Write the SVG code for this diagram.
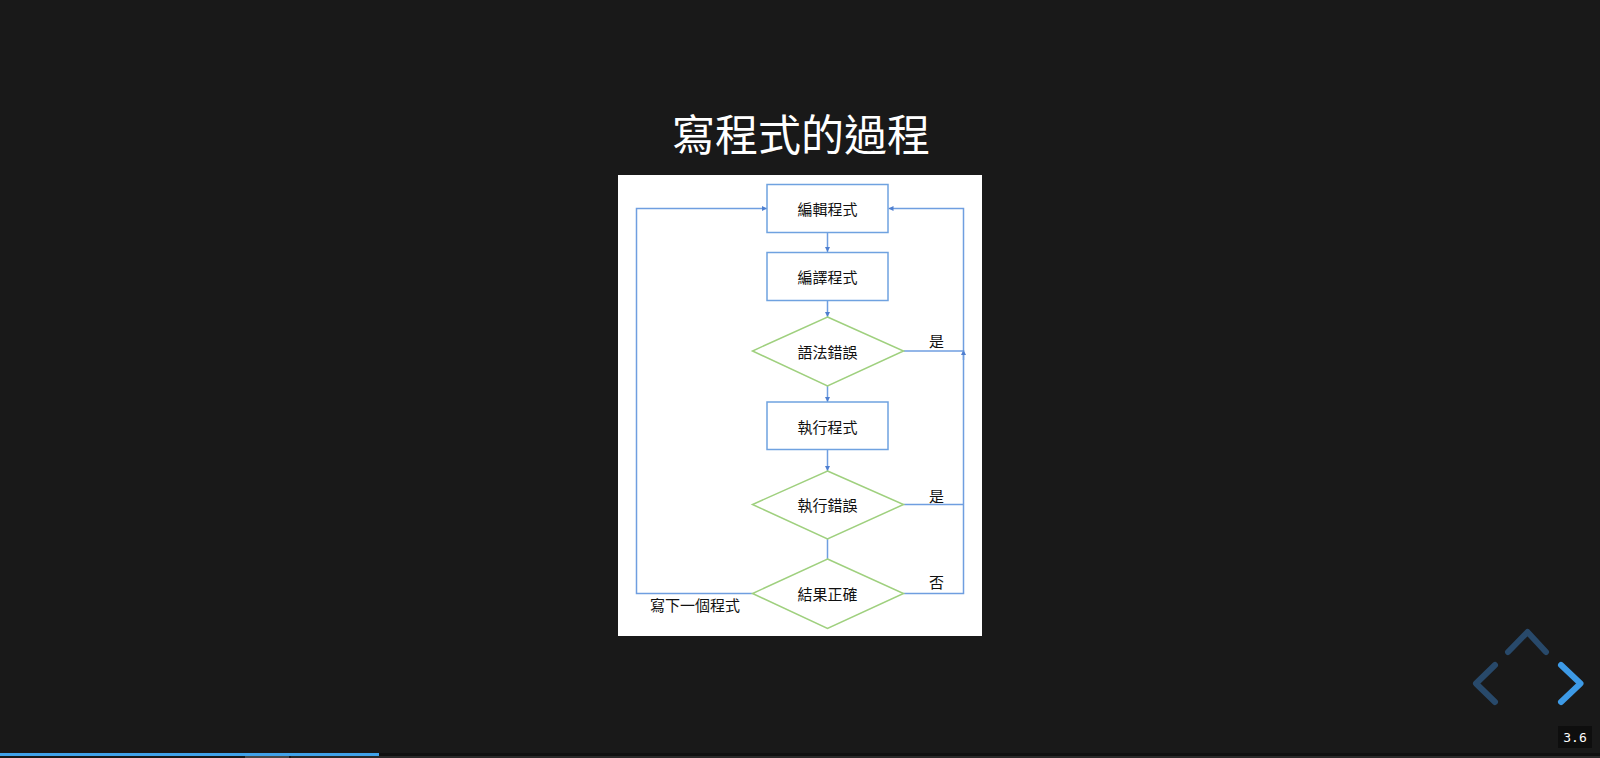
<svg xmlns="http://www.w3.org/2000/svg" width="1600" height="758" viewBox="0 0 1600 758">
<style>
.bg{fill:#191919}
.title{font-family:"Noto Sans CJK TC","Noto Sans CJK SC",sans-serif;font-size:43px;fill:#ffffff;text-anchor:middle}
.box{fill:#ffffff;stroke:#6fa2e0;stroke-width:1.5}
.dia{fill:#ffffff;stroke:#9fd07e;stroke-width:1.5}
.t{font-family:"Noto Sans CJK TC","Noto Sans CJK SC",sans-serif;font-size:15px;fill:#111111;text-anchor:middle;dominant-baseline:central}
.lbl{font-family:"Noto Sans CJK TC","Noto Sans CJK SC",sans-serif;font-size:15px;fill:#111111;dominant-baseline:central}
.ln{fill:none;stroke:#6f9ee0;stroke-width:1.5}
.nav{fill:none;stroke-width:6;stroke-linecap:round;stroke-linejoin:round}
</style>
<defs>
<marker id="ah" viewBox="0 0 10 10" refX="10" refY="5" markerWidth="5" markerHeight="5" orient="auto" markerUnits="userSpaceOnUse">
<path d="M0,0 L10,5 L0,10 z" fill="#4f7fd0"/>
</marker>
</defs>
<rect class="bg" x="0" y="0" width="1600" height="758"/>
<text class="title" x="801" y="151">寫程式的過程</text>
<rect x="618" y="175" width="364" height="461" fill="#ffffff"/>
<g id="connectors">
<line class="ln" x1="827.5" y1="232" x2="827.5" y2="252" marker-end="url(#ah)"/>
<line class="ln" x1="827.5" y1="300.5" x2="827.5" y2="317" marker-end="url(#ah)"/>
<line class="ln" x1="827.5" y1="386" x2="827.5" y2="402" marker-end="url(#ah)"/>
<line class="ln" x1="827.5" y1="449.5" x2="827.5" y2="471" marker-end="url(#ah)"/>
<line class="ln" x1="827.5" y1="539" x2="827.5" y2="559"/>
<polyline class="ln" points="752.5,593.5 636.5,593.5 636.5,208.5 767,208.5" marker-end="url(#ah)"/>
<polyline class="ln" points="903.5,593.5 963.5,593.5 963.5,208.5 888.5,208.5" marker-end="url(#ah)"/>
<line class="ln" x1="963.5" y1="360" x2="963.5" y2="350" marker-end="url(#ah)"/>
<line class="ln" x1="903.5" y1="351" x2="963.5" y2="351"/>
<line class="ln" x1="903.5" y1="504.5" x2="963.5" y2="504.5"/>
<text class="lbl" x="929" y="340">是</text>
<text class="lbl" x="929" y="495">是</text>
<text class="lbl" x="929" y="581">否</text>
<text class="lbl" x="650" y="604">寫下一個程式</text>
</g>
<g id="edit">
<rect class="box" x="767" y="184.5" width="121" height="48"/>
<text class="t" x="827.5" y="208.5">編輯程式</text>
</g>
<g id="compile">
<rect class="box" x="767" y="252.5" width="121" height="48"/>
<text class="t" x="827.5" y="276.5">編譯程式</text>
</g>
<g id="syntax">
<polygon class="dia" points="827.5,317 903.5,351 827.5,386 752.5,351"/>
<text class="t" x="827.5" y="351">語法錯誤</text>
</g>
<g id="run">
<rect class="box" x="767" y="402" width="121" height="47.5"/>
<text class="t" x="827.5" y="426">執行程式</text>
</g>
<g id="runtime">
<polygon class="dia" points="827.5,471 903.5,504.5 827.5,539 752.5,504.5"/>
<text class="t" x="827.5" y="504.5">執行錯誤</text>
</g>
<g id="result">
<polygon class="dia" points="827.5,559 903.5,593.5 827.5,628.5 752.5,593.5"/>
<text class="t" x="827.5" y="593.5">結果正確</text>
</g>
<g id="navigation">
<polyline class="nav" stroke="#28496a" points="1508,652 1527.5,632 1546,652"/>
<polyline class="nav" stroke="#28496a" points="1495,665 1476,683.5 1495,702"/>
<polyline class="nav" stroke="#3d9ae6" points="1561,665 1580.5,683.5 1561,702"/>
<rect x="1558" y="726" width="34" height="22" fill="#0e0e0e"/>
<text x="1575" y="742" font-family="DejaVu Sans Mono,monospace" font-size="13" fill="#ffffff" text-anchor="middle">3.6</text>
<rect x="0" y="753" width="1600" height="3" fill="#101010"/>
<rect x="0" y="753" width="379" height="3" fill="#3fa2ea"/>
<rect x="245" y="756" width="44" height="2" fill="#4a4a4a"/>
<rect x="291" y="756" width="1309" height="2" fill="#2a2a2a"/>
</g>
</svg>
